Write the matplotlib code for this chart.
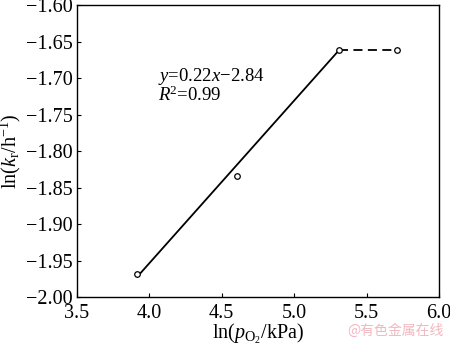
import matplotlib.pyplot as plt

plt.rcParams['font.family'] = ['Liberation Serif', 'DejaVu Serif']
plt.rcParams['mathtext.fontset'] = 'custom'
plt.rcParams['mathtext.rm'] = 'Liberation Serif'
plt.rcParams['mathtext.it'] = 'Liberation Serif:italic'

# data
ln_p = [3.92, 4.61, 5.31, 5.71]
ln_k = [-1.968, -1.834, -1.662, -1.662]
fit_x = [3.92, 5.31]
fit_y = [-1.972, -1.662]
flat_x = [5.31, 5.71]
flat_y = [-1.662, -1.662]
xticks = [3.5, 4.0, 4.5, 5.0, 5.5, 6.0]
yticks = [-1.60, -1.65, -1.70, -1.75, -1.80, -1.85, -1.90, -1.95, -2.00]

fig = plt.figure(figsize=(4.5, 3.45), dpi=100)
ax = fig.add_axes([0.17, 0.139, 0.8056, 0.8465])

ax.plot(fit_x, fit_y, color='black', lw=1.3)
ax.plot(flat_x, flat_y, color='black', lw=1.3, dashes=(5, 3))
ax.plot(ln_p, ln_k, 'o', ms=4, mfc='white', mec='black', mew=0.9, ls='none')

ax.set_xlim(3.5, 6.0)
ax.set_ylim(-2.0, -1.6)
ax.set_xticks(xticks)
ax.set_yticks(yticks)
ax.set_xticklabels(['%.1f' % v for v in xticks])
ax.set_yticklabels(['\u2212%.2f' % abs(v) for v in yticks])
ax.tick_params(direction='in', length=3, width=0.8, labelsize=14.5)
ax.tick_params(axis='x', pad=5)
ax.tick_params(axis='y', pad=3)
for s in ax.spines.values():
    s.set_linewidth(1.0)

ax.set_xlabel(r'ln($p_{\mathrm{O}_2}$/kPa)', fontsize=14.5, labelpad=-1)
ax.set_ylabel(r'ln($k_\mathrm{r}$/h$^{-1}$)', fontsize=14.5, labelpad=2)

ax.text(4.06, -1.7045, r'$y$=0.22$x$$-$2.84', fontsize=13.5, va='baseline')
ax.text(4.06, -1.7315, r'$R$$^2$=0.99', fontsize=13.5, va='baseline')

fig.text(0.985, 0.02, '@有色金属在线', fontsize=10, color='#f2b8c0',
         ha='right', va='bottom', family=['Noto Sans CJK SC', 'DejaVu Sans'])

fig.savefig('out.png', dpi=100)
